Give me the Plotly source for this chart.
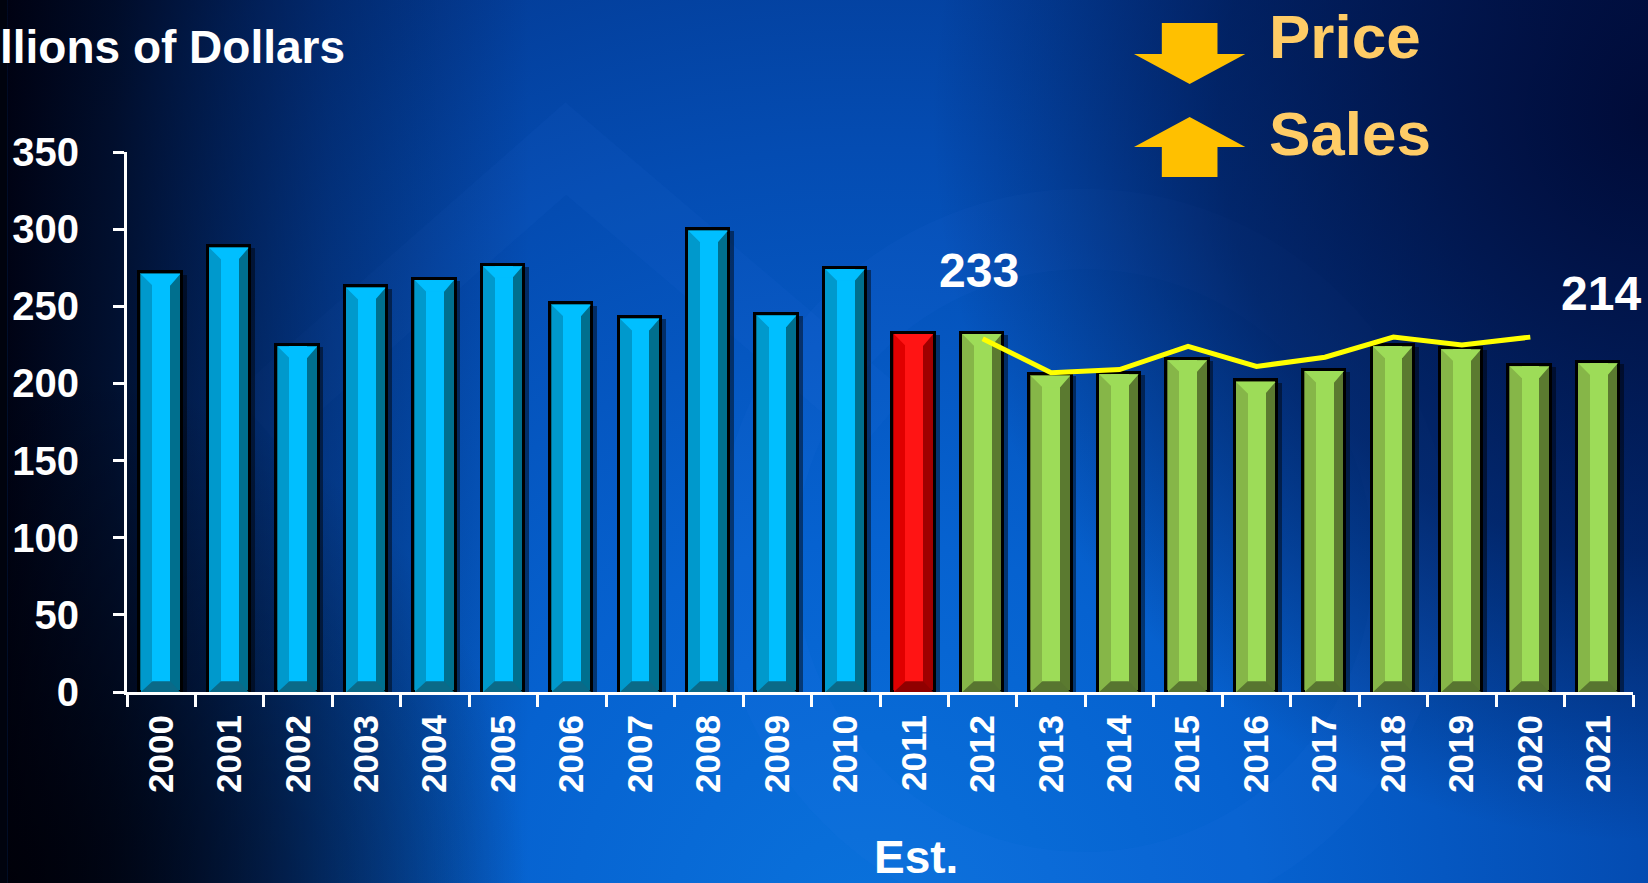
import base64
import plotly.graph_objects as go

# ---------------- data ----------------
years = [str(y) for y in range(2000, 2022)]
actual_years = years[:11]
actual_values = [272, 289, 225, 263, 268, 277, 252, 243, 300, 245, 275]
current_years = ["2011"]
current_values = [233]
forecast_years = years[12:]
forecast_values = [233, 206, 207, 216, 202, 209, 225, 223, 212, 214]
price_years = years[12:21]
price_values = [229, 207, 209, 224, 211, 217, 230, 225, 230]
y_ticks = [0, 50, 100, 150, 200, 250, 300, 350]
callout_years = ["2012", "2021"]
callout_values = [233, 214]

# ---------------- geometry ----------------
W, H = 1648, 883
ML, MR, MT, MB = 118, 15, 152, 191
PW, PH = W - ML - MR, H - MT - MB
FONT = "Liberation Sans, Arial, sans-serif"


def px_x(px):
    return (px - ML) / PW


def px_y(py):
    return (H - MB - py) / PH


# bar styling (category units / value units)
BL, BW, BB = -0.32, 0.62, 0.022
LEFT_W, CENT_W = 0.17, 0.26
BEVEL_TOP, BEVEL_BOT, INSET = 7.5, 7.0, 1.0

styles = {
    "actual": dict(left="#0099cc", center="#00bfff", right="#006f8e", bottom="#0a6a88"),
    "current": dict(left="#e00000", center="#ff1414", right="#a00000", bottom="#900000"),
    "forecast": dict(left="#86b648", center="#9ddc58", right="#5b7a30", bottom="#587530"),
}

groups = [
    ("actual", actual_years, actual_values),
    ("current", current_years, current_values),
    ("forecast", forecast_years, forecast_values),
]

fig = go.Figure()

# shadows
for key, xs, vs in groups:
    fig.add_trace(go.Bar(x=xs, y=[v - 1.5 for v in vs], width=BW, offset=BL + 0.07,
                         marker=dict(color="rgba(0,0,0,0.45)", line=dict(width=0)),
                         hoverinfo="skip", showlegend=False))
# base bars (right face colour) with black outline
for key, xs, vs in groups:
    s = styles[key]
    fig.add_trace(go.Bar(x=xs, y=vs, width=BW, offset=BL,
                         marker=dict(color=s["right"], line=dict(color="black", width=3)),
                         showlegend=False, name=key))
# left face
for key, xs, vs in groups:
    s = styles[key]
    fig.add_trace(go.Bar(x=xs, y=[v - INSET for v in vs], width=LEFT_W + CENT_W, offset=BL + BB,
                         marker=dict(color=s["left"], line=dict(width=0)),
                         hoverinfo="skip", showlegend=False))
# centre face
for key, xs, vs in groups:
    s = styles[key]
    fig.add_trace(go.Bar(x=xs, y=[v - INSET for v in vs], width=CENT_W, offset=BL + BB + LEFT_W,
                         marker=dict(color=s["center"], line=dict(width=0)),
                         hoverinfo="skip", showlegend=False))

# bevel polygons (on numeric overlay axis x2)
for key, xs, vs in groups:
    s = styles[key]
    tx, ty, bx, by = [], [], [], []
    for yr, v in zip(xs, vs):
        i = years.index(yr)
        x0 = i + BL + BB
        x1 = i + BL + BW - BB
        c0 = x0 + LEFT_W
        c1 = c0 + CENT_W
        yt = v - INSET
        tx += [x0, x1, c1, c0, x0, None]
        ty += [yt, yt, yt - BEVEL_TOP, yt - BEVEL_TOP, yt, None]
        bx += [x0, x1, c1, c0, x0, None]
        by += [0, 0, BEVEL_BOT, BEVEL_BOT, 0, None]
    fig.add_trace(go.Scatter(x=tx, y=ty, xaxis="x2", mode="lines", fill="toself",
                             fillcolor=s["center"], line=dict(width=0), hoverinfo="skip",
                             showlegend=False))
    fig.add_trace(go.Scatter(x=bx, y=by, xaxis="x2", mode="lines", fill="toself",
                             fillcolor=s["bottom"], line=dict(width=0), hoverinfo="skip",
                             showlegend=False))

# price line
fig.add_trace(go.Scatter(x=[years.index(y) for y in price_years], y=price_values, xaxis="x2",
                         mode="lines", line=dict(color="#ffff00", width=5),
                         showlegend=False, name="Price"))

# ---------------- background ----------------
svg = f"""<svg xmlns='http://www.w3.org/2000/svg' width='{W}' height='{H}' viewBox='0 0 {W} {H}'>
<defs>
<radialGradient id='g1' cx='860' cy='930' r='1300' gradientUnits='userSpaceOnUse'>
<stop offset='0' stop-color='#0a72dc'/>
<stop offset='0.3' stop-color='#0662d0'/>
<stop offset='0.6' stop-color='#044cb2'/>
<stop offset='0.85' stop-color='#033890'/>
<stop offset='1' stop-color='#012064'/>
</radialGradient>
<linearGradient id='g2' x1='0' y1='0' x2='1' y2='0'>
<stop offset='0' stop-color='#00000e' stop-opacity='0.97'/>
<stop offset='0.07' stop-color='#000414' stop-opacity='0.8'/>
<stop offset='0.2' stop-color='#000a28' stop-opacity='0.35'/>
<stop offset='0.32' stop-color='#000a28' stop-opacity='0'/>
</linearGradient>
<radialGradient id='g3' cx='{W}' cy='120' r='720' gradientUnits='userSpaceOnUse'>
<stop offset='0' stop-color='#000934' stop-opacity='0.95'/>
<stop offset='0.6' stop-color='#000934' stop-opacity='0.55'/>
<stop offset='1' stop-color='#000934' stop-opacity='0'/>
</radialGradient>
<radialGradient id='g4' cx='0' cy='{H}' r='520' gradientUnits='userSpaceOnUse'>
<stop offset='0' stop-color='#000008' stop-opacity='0.9'/>
<stop offset='1' stop-color='#000008' stop-opacity='0'/>
</radialGradient>
</defs>
<rect x='-10' y='-10' width='{W + 20}' height='{H + 20}' fill='url(#g1)'/>
<path d='M250 420 L560 150 L880 420' fill='none' stroke='#4a90ff' stroke-opacity='0.05' stroke-width='70'/>
<circle cx='1080' cy='560' r='330' fill='none' stroke='#4a90ff' stroke-opacity='0.05' stroke-width='80'/>
<rect x='-10' y='-10' width='{W + 20}' height='{H + 20}' fill='url(#g2)'/>
<rect x='-10' y='-10' width='{W + 20}' height='{H + 20}' fill='url(#g3)'/>
<rect x='-10' y='-10' width='{W + 20}' height='{H + 20}' fill='url(#g4)'/>
</svg>"""
src = "data:image/svg+xml;base64," + base64.b64encode(svg.encode()).decode()
fig.add_layout_image(dict(source=src, xref="paper", yref="paper", x=px_x(-2), y=px_y(-2),
                          sizex=(W + 4) / PW, sizey=(H + 4) / PH, xanchor="left", yanchor="top",
                          sizing="stretch", layer="below"))

# ---------------- arrows ----------------
def path(points):
    return "M " + " L ".join(f"{px_x(a):.5f},{px_y(b):.5f}" for a, b in points) + " Z"


down_arrow = [(1159, 23), (1215, 23), (1215, 54), (1243, 54), (1187, 84), (1131, 54), (1159, 54)]
up_arrow = [(1187, 117), (1243, 147), (1215, 147), (1215, 177), (1159, 177), (1159, 147), (1131, 147)]
for pts in (down_arrow, up_arrow):
    fig.add_shape(type="path", xref="paper", yref="paper", path=path(pts),
                  fillcolor="#ffc000", line=dict(width=0), layer="above")

# ---------------- annotations ----------------
ann = []
ann.append(dict(text="Billions of Dollars", xref="paper", yref="paper", x=px_x(339), y=px_y(47),
                xanchor="right", yanchor="middle", showarrow=False,
                font=dict(family=FONT, size=46, color="white", weight="bold")))
ann.append(dict(text="Price", xref="paper", yref="paper", x=px_x(1265), y=px_y(37),
                xanchor="left", yanchor="middle", showarrow=False,
                font=dict(family=FONT, size=62, color="#ffcc66", weight="bold")))
ann.append(dict(text="Sales", xref="paper", yref="paper", x=px_x(1265), y=px_y(134),
                xanchor="left", yanchor="middle", showarrow=False,
                font=dict(family=FONT, size=62, color="#ffcc66", weight="bold")))
ann.append(dict(text="Est.", xref="paper", yref="paper", x=px_x(912), y=px_y(857),
                xanchor="center", yanchor="middle", showarrow=False,
                font=dict(family=FONT, size=46, color="white", weight="bold")))
for yr, v, ys, xs in zip(callout_years, callout_values, [62, 68], [-4, 2]):
    ann.append(dict(text=str(v), xref="x2", yref="y", x=years.index(yr), y=v, xanchor="center",
                    yanchor="middle", yshift=ys, xshift=xs, showarrow=False,
                    font=dict(family=FONT, size=48, color="white", weight="bold")))

fig.update_layout(
    width=W, height=H,
    margin=dict(l=ML, r=MR, t=MT, b=MB, pad=0),
    paper_bgcolor="#00030e", plot_bgcolor="rgba(0,0,0,0)",
    barmode="overlay", bargap=0,
    annotations=ann,
    xaxis=dict(type="category", categoryorder="array", categoryarray=years,
               range=[-0.5, len(years) - 0.5], tickson="boundaries",
               ticks="outside", ticklen=12, tickwidth=3, tickcolor="white",
               showline=True, linecolor="white", linewidth=3, showgrid=False,
               tickangle=-90, ticklabelstandoff=6,
               tickfont=dict(family=FONT, size=35, color="white", weight="bold"),
               zeroline=False, fixedrange=True),
    xaxis2=dict(overlaying="x", range=[-0.5, len(years) - 0.5], visible=False,
                showgrid=False, zeroline=False),
    yaxis=dict(range=[0, 350], tickvals=y_ticks, ticks="outside", ticklen=11, tickwidth=3,
               tickcolor="white", showline=True, linecolor="white", linewidth=3,
               showgrid=False, zeroline=False, ticklabelstandoff=26,
               tickfont=dict(family=FONT, size=40, color="white", weight="bold")),
    showlegend=False,
)

fig.write_html("out.html", config={"displayModeBar": False},
               post_script="document.body.style.margin='0';document.body.style.overflow='hidden';"
                           "document.body.style.background='#00030e';")
